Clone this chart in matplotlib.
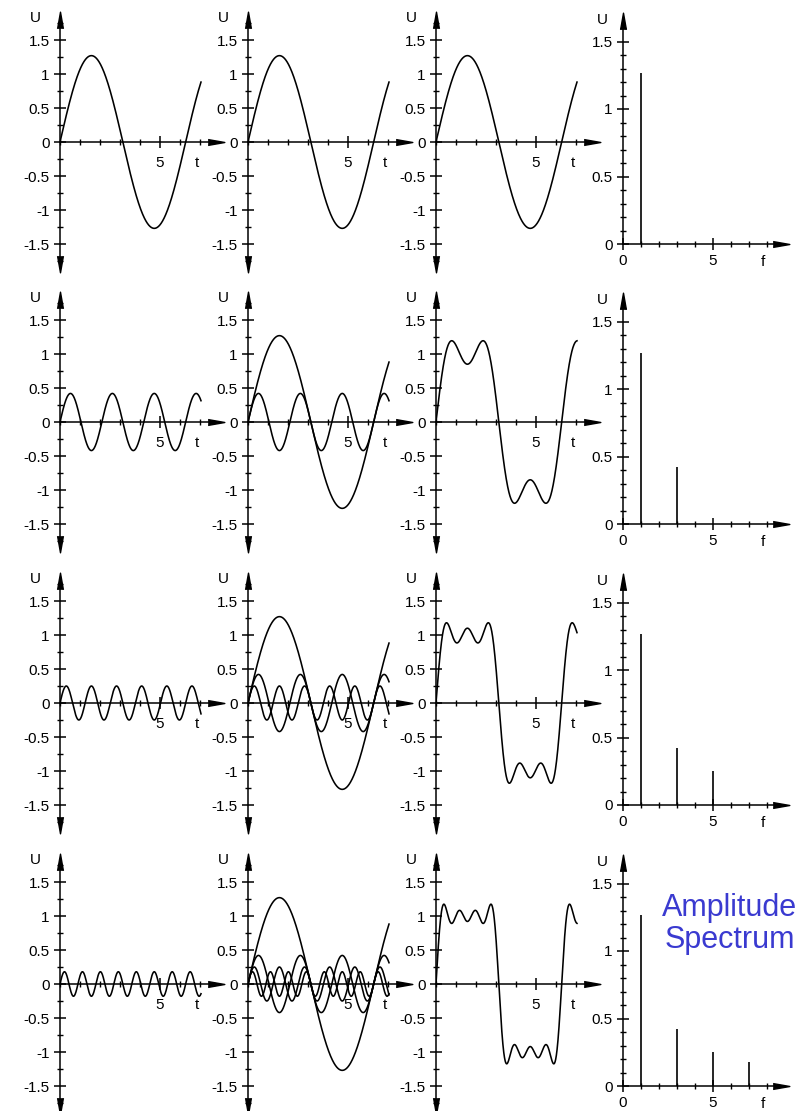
import numpy as np
import matplotlib.pyplot as plt
from matplotlib.ticker import MultipleLocator, FuncFormatter

plt.rcParams['font.family'] = ['Liberation Sans', 'DejaVu Sans']
plt.rcParams['axes.unicode_minus'] = False

# harmonics of the square wave and their amplitudes
harmonics = [1, 3, 5, 7]
amplitudes = [1.27, 0.42, 0.25, 0.18]
t_end = 7.05

W, H = 808, 1111
fig = plt.figure(figsize=(W / 100, H / 100), dpi=100)

col_x = [60, 248, 436]      # pixel x of the U axis, time panels
spec_x = 623                # pixel x of the U axis, spectrum panel
row_zero = [142, 422, 703, 984]
t_px, u_px = 20, 68         # pixels per unit, time panels
f_px, a_px = 18, 135        # pixels per unit, spectrum panels

rarrow = [(-1, -0.35), (1, 0), (-1, 0.35)]
uarrow = [(-0.35, -1), (0, 1), (0.35, -1)]
darrow = [(-0.35, 1), (0, -1), (0.35, 1)]

fmt = FuncFormatter(lambda v, p: f"{v:g}")


def style_axes(ax, ylo):
    for s in ['top', 'right']:
        ax.spines[s].set_visible(False)
    ax.spines['left'].set_position(('data', 0))
    ax.spines['bottom'].set_position(('data', 0))
    for s in ['left', 'bottom']:
        ax.spines[s].set_linewidth(1.1)
    ax.patch.set_visible(False)
    ax.tick_params(which='major', direction='inout', length=8, width=1.1, labelsize=11)
    ax.tick_params(which='minor', direction='inout', length=5, width=1.0)
    ax.tick_params(axis='y', pad=3.5)
    ax.plot(1, 0, marker=rarrow, ms=12, color='k', transform=ax.get_yaxis_transform(), clip_on=False)
    ax.plot(0, 1, marker=uarrow, ms=12, color='k', transform=ax.get_xaxis_transform(), clip_on=False)
    if ylo:
        ax.plot(0, 0, marker=darrow, ms=12, color='k', transform=ax.get_xaxis_transform(), clip_on=False)


def time_axes(cx, z):
    xlim, ylim = (0, 7.8), (-1.8, 1.8)
    w = (xlim[1] - xlim[0]) * t_px
    h = (ylim[1] - ylim[0]) * u_px
    top = z - ylim[1] * u_px
    ax = fig.add_axes([cx / W, 1 - (top + h) / H, w / W, h / H])
    ax.set_xlim(xlim)
    ax.set_ylim(ylim)
    style_axes(ax, True)
    ax.set_xticks([5])
    ax.xaxis.set_minor_locator(MultipleLocator(1))
    ax.yaxis.set_major_locator(MultipleLocator(0.5))
    ax.yaxis.set_minor_locator(MultipleLocator(0.25))
    ax.yaxis.set_major_formatter(fmt)
    ax.tick_params(axis='x', pad=6)
    ax.text(6.85, -0.31, 't', fontsize=11, ha='center', va='center')
    ax.annotate('U', xy=(0, 1), xycoords='axes fraction', xytext=(-18, 1.5),
                textcoords='offset points', ha='center', va='center', fontsize=11)
    return ax


def spec_axes(z):
    xlim, ylim = (0, 8.8), (0, 1.65)
    w = (xlim[1] - xlim[0]) * f_px
    h = (ylim[1] - ylim[0]) * a_px
    base = z + 1.5 * u_px
    ax = fig.add_axes([spec_x / W, 1 - base / H, w / W, h / H])
    ax.set_xlim(xlim)
    ax.set_ylim(ylim)
    style_axes(ax, False)
    ax.set_xticks([0, 5])
    ax.xaxis.set_minor_locator(MultipleLocator(1))
    ax.yaxis.set_major_locator(MultipleLocator(0.5))
    ax.yaxis.set_minor_locator(MultipleLocator(0.1))
    ax.yaxis.set_major_formatter(fmt)
    ax.tick_params(axis='x', pad=3)
    ax.text(7.8, -18 / a_px, 'f', fontsize=11, ha='center', va='center')
    ax.annotate('U', xy=(0, 1), xycoords='axes fraction', xytext=(-15, 1),
                textcoords='offset points', ha='center', va='center', fontsize=11)
    return ax


t = np.linspace(0, t_end, 800)
for r in range(4):
    z = row_zero[r]
    parts = [a * np.sin(k * t) for k, a in zip(harmonics[:r + 1], amplitudes[:r + 1])]

    ax1 = time_axes(col_x[0], z)
    ax1.plot(t, parts[-1], color='k', lw=1.15)

    ax2 = time_axes(col_x[1], z)
    for p in parts:
        ax2.plot(t, p, color='k', lw=1.15)

    ax3 = time_axes(col_x[2], z)
    ax3.plot(t, np.sum(parts, axis=0), color='k', lw=1.15)

    ax4 = spec_axes(z)
    ax4.vlines(harmonics[:r + 1], 0, amplitudes[:r + 1], color='k', lw=1.2)

fig.text(730 / W, 1 - 924 / H, 'Amplitude\nSpectrum', color='#3a3ad0', fontsize=22,
         ha='center', va='center', multialignment='center', linespacing=1.05)

fig.savefig('out.png', dpi=100)
